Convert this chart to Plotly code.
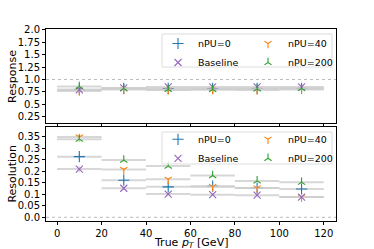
import plotly.graph_objects as go

pt_bins = [10, 30, 50, 70, 90, 110]
pt_halfwidth = [10, 10, 10, 10, 10, 10]

series_names = ["nPU=0", "nPU=40", "Baseline", "nPU=200"]
series_colors = ["#1f77b4", "#ff7f0e", "#9467bd", "#2ca02c"]
series_symbols = ["cross-thin", "y-down", "x-thin", "y-up"]
series_sizes = [8, 6, 7, 6]

response_npu0 = [0.80, 0.82, 0.82, 0.82, 0.82, 0.82]
response_npu40 = [0.77, 0.80, 0.79, 0.80, 0.79, 0.80]
response_baseline = [0.79, 0.83, 0.85, 0.85, 0.85, 0.85]
response_npu200 = [0.86, 0.82, 0.80, 0.80, 0.81, 0.82]

resolution_npu0 = [0.263, 0.161, 0.132, 0.135, 0.127, 0.123]
resolution_npu40 = [0.348, 0.207, 0.165, 0.133, 0.127, 0.088]
resolution_baseline = [0.209, 0.126, 0.101, 0.098, 0.096, 0.088]
resolution_npu200 = [0.339, 0.248, 0.222, 0.181, 0.158, 0.152]

response_err = [0.02, 0.01, 0.01, 0.01, 0.01, 0.01]
resolution_err = [0.012, 0.008, 0.006, 0.006, 0.006, 0.006]

resp_ticks = [0.25, 0.5, 0.75, 1.0, 1.25, 1.5, 1.75, 2.0]
resp_ticktext = ["0.25", "0.5", "0.75", "1.0", "1.25", "1.5", "1.75", "2.0"]
reso_ticks = [0.0, 0.05, 0.1, 0.15, 0.2, 0.25, 0.3, 0.35]
reso_ticktext = ["0.0", "0.05", "0.1", "0.15", "0.2", "0.25", "0.3", "0.35"]
x_ticks = [0, 20, 40, 60, 80, 100, 120]

response = [response_npu0, response_npu40, response_baseline, response_npu200]
resolution = [resolution_npu0, resolution_npu40, resolution_baseline, resolution_npu200]

FONT = "DejaVu Sans"
ERRCOL = "rgba(205,205,205,0.8)"
fig = go.Figure()

for panel, data, err, xa, ya, lg in [
        (0, response, response_err, "x", "y", "legend"),
        (1, resolution, resolution_err, "x2", "y2", "legend2")]:
    for i, name in enumerate(series_names):
        mk = dict(symbol=series_symbols[i], size=series_sizes[i], color=series_colors[i],
                  line=dict(color=series_colors[i], width=1.1))
        fig.add_trace(go.Scatter(
            x=pt_bins, y=data[i], mode="markers", name=name, marker=mk,
            error_x=dict(type="data", array=pt_halfwidth, color=ERRCOL, thickness=2, width=0),
            error_y=dict(type="data", array=err, color=ERRCOL, thickness=1.5, width=0),
            xaxis=xa, yaxis=ya, legend=lg))

axis_common = dict(showline=True, linecolor="black", linewidth=1, mirror=True,
                   ticks="outside", ticklen=3, tickcolor="black", tickwidth=1,
                   showgrid=False, zeroline=False, automargin=False,
                   tickfont=dict(family=FONT, size=10, color="black"))

legend_common = dict(orientation="h", xanchor="right", yanchor="top",
                     entrywidth=45, bgcolor="rgba(0,0,0,0)", borderwidth=0,
                     font=dict(family=FONT, size=9.5), itemwidth=30,
                     tracegroupgap=0)

fig.update_layout(
    width=374, height=249,
    margin=dict(l=46, r=38, t=29, b=28),
    paper_bgcolor="white", plot_bgcolor="white",
    font=dict(family=FONT, size=10, color="black"),
    xaxis=dict(domain=[0, 1], range=[-5, 125.5], tickvals=x_ticks, showticklabels=False,
               anchor="y", **axis_common),
    yaxis=dict(domain=[0.508, 1], range=[0.113, 2.02], tickvals=resp_ticks, ticktext=resp_ticktext,
               **axis_common),
    xaxis2=dict(domain=[0, 1], range=[-5, 125.5], tickvals=x_ticks, anchor="y2", matches="x",
                **axis_common),
    yaxis2=dict(domain=[0, 0.49], range=[-0.016, 0.392], tickvals=reso_ticks, ticktext=reso_ticktext,
                **axis_common),
    legend=dict(x=1.007, y=1.0, **legend_common),
    legend2=dict(x=1.007, y=0.501, **legend_common),
    showlegend=True,
)

# axis titles
for text, yc in [("Response", 0.754), ("Resolution", 0.245)]:
    fig.add_annotation(text=text, xref="paper", yref="paper", x=-0.115, y=yc,
                       textangle=-90, showarrow=False, xanchor="center", yanchor="middle",
                       font=dict(family=FONT, size=11, color="black"))
fig.add_annotation(text="True <i>p</i><sub><i>T</i></sub> [GeV]", xref="paper", yref="paper",
                   x=0.5, y=-0.115, showarrow=False, xanchor="center", yanchor="middle",
                   font=dict(family=FONT, size=11, color="black"))

# reference-style dotted guide lines
fig.add_shape(type="line", xref="x domain", yref="y", x0=0, x1=1, y0=1.0, y1=1.0,
              line=dict(color="#bbbbbb", width=1, dash="dot"), layer="below")
fig.add_shape(type="line", xref="x2 domain", yref="y2", x0=0, x1=1, y0=0.0, y1=0.0,
              line=dict(color="#bbbbbb", width=1, dash="dot"), layer="below")
# legend frames
for y0, y1 in [(0.802, 0.974), (0.297, 0.4635)]:
    fig.add_shape(type="rect", xref="paper", yref="paper", x0=0.4, x1=0.986, y0=y0, y1=y1,
                  line=dict(color="#dddddd", width=1), fillcolor="rgba(255,255,255,0.8)",
                  layer="above")

fig.write_html("out.html", config={"displayModeBar": False},
               post_script="document.body.style.margin='0';")
